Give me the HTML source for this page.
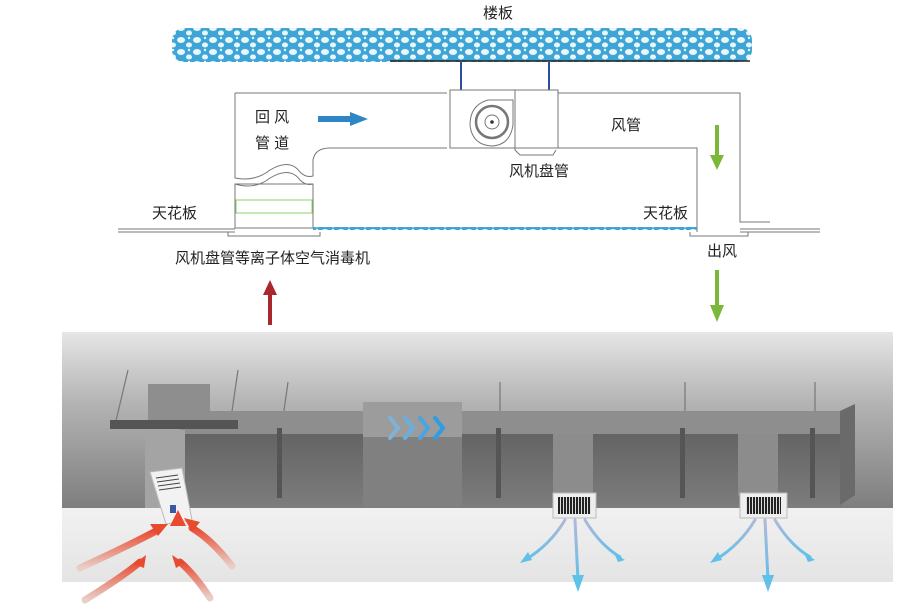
<!DOCTYPE html>
<html><head><meta charset="utf-8"><style>
html,body{margin:0;padding:0;background:#fff;width:918px;height:605px;overflow:hidden}
svg{display:block}
text{font-family:"Liberation Sans","Noto Sans CJK SC",sans-serif;font-size:15px;fill:#222}
</style></head><body>
<svg width="918" height="605" viewBox="0 0 918 605" xmlns="http://www.w3.org/2000/svg">
<defs>
<pattern id="dots" width="16" height="12" patternUnits="userSpaceOnUse">
<rect width="16" height="12" fill="#3fa5d6"/>
<ellipse cx="5" cy="4" rx="4" ry="3" fill="#e8f6fc"/>
<ellipse cx="13" cy="9" rx="3" ry="2.5" fill="#e8f6fc"/>
<circle cx="13" cy="2" r="1.2" fill="#e8f6fc"/>
</pattern>
<pattern id="grill" width="3" height="4" patternUnits="userSpaceOnUse">
<rect width="3" height="4" fill="#ddd"/><rect width="2" height="4" fill="#222"/>
</pattern>
<linearGradient id="wall" x1="0" y1="0" x2="0" y2="1">
<stop offset="0" stop-color="#e6e6e6"/><stop offset="0.4" stop-color="#b4b4b4"/><stop offset="1" stop-color="#7e7e7e"/>
</linearGradient>
<linearGradient id="floor" x1="0" y1="0" x2="0" y2="1">
<stop offset="0" stop-color="#f1f1f1"/><stop offset="1" stop-color="#e4e4e4"/>
</linearGradient>
<linearGradient id="front" x1="0" y1="0" x2="0" y2="1">
<stop offset="0" stop-color="#646464"/><stop offset="1" stop-color="#7c7c7c"/>
</linearGradient>
<linearGradient id="red" x1="0" y1="1" x2="0" y2="0">
<stop offset="0" stop-color="#e9cfc8"/><stop offset="1" stop-color="#e84a30"/>
</linearGradient>
<linearGradient id="blue" x1="0" y1="0" x2="0" y2="1">
<stop offset="0" stop-color="#b0b8d8"/><stop offset="1" stop-color="#5fc0ea"/>
</linearGradient>
</defs>

<!-- top diagram -->
<text x="483" y="18">楼板</text>
<rect x="172" y="28" width="580" height="34" rx="12" fill="url(#dots)"/>
<line x1="390" y1="61" x2="750" y2="61" stroke="#222" stroke-width="1.5"/>
<line x1="461" y1="62" x2="461" y2="92" stroke="#2a4ea0" stroke-width="2"/>
<line x1="549" y1="62" x2="549" y2="92" stroke="#2a4ea0" stroke-width="2"/>

<g fill="none" stroke="#777" stroke-width="1">
<path d="M235 93 L447 93 M235 93 L235 178 Q255 182 270 170 Q290 158 300 172 Q306 178 313 176 L313 160 Q315 148 330 148 L447 148"/>
<path d="M235 184 Q255 190 270 178 Q290 166 300 180 Q306 186 313 184"/>
<path d="M558 93 L740 93 L740 222 L770 222 M558 148 L697 148 L697 232"/>
<rect x="235" y="184" width="78" height="44"/>
<rect x="450" y="90" width="108" height="58" fill="#fff"/>
<path d="M515 90 L515 150 L520 155 L553 155 L556 150"/>
<path d="M488 100 Q470 105 470 125 Q472 145 492 146 Q510 145 513 125 L513 100 Z"/>
<circle cx="492" cy="122" r="16" stroke-width="2.5"/><circle cx="492" cy="122" r="7"/>
<line x1="118" y1="229" x2="235" y2="229"/><line x1="118" y1="232" x2="235" y2="232"/>
<line x1="740" y1="229" x2="820" y2="229"/><line x1="740" y1="232" x2="820" y2="232"/>
<path d="M228 232 L228 236 L320 236 L320 232 M690 232 L690 236 L748 236 L748 232"/>
</g>
<rect x="236" y="200" width="76" height="13" fill="none" stroke="#8fcf6b" stroke-width="1"/>
<circle cx="492" cy="122" r="1.8" fill="#333"/>
<rect x="313" y="227" width="384" height="3" fill="url(#dots)"/>

<text x="255" y="122">回 风</text>
<text x="255" y="148">管 道</text>
<path d="M318 116 L350 116 L350 112 L368 119 L350 126 L350 122 L318 122Z" fill="#2f86c6"/>
<text x="611" y="130">风管</text>
<path d="M715 125 L719 125 L719 155 L724 155 L717 170 L710 155 L715 155Z" fill="#7ab83a"/>
<text x="509" y="176">风机盘管</text>
<text x="152" y="218">天花板</text>
<text x="643" y="218">天花板</text>
<text x="175" y="263">风机盘管等离子体空气消毒机</text>
<text x="707" y="256">出风</text>
<path d="M268 325 L268 295 L263 295 L270 280 L277 295 L272 295 L272 325Z" fill="#a8282d"/>
<path d="M715 270 L719 270 L719 305 L724 305 L717 322 L710 305 L715 305Z" fill="#7ab83a"/>

<!-- bottom render -->
<rect x="62" y="332" width="831" height="176" fill="url(#wall)"/>
<rect x="62" y="508" width="831" height="74" fill="url(#floor)"/>
<g stroke="#777" stroke-width="1.2">
<line x1="128" y1="370" x2="115" y2="425"/><line x1="238" y1="370" x2="230" y2="425"/>
<line x1="288" y1="382" x2="282" y2="425"/><line x1="500" y1="382" x2="500" y2="425"/>
<line x1="685" y1="382" x2="685" y2="425"/><line x1="815" y1="382" x2="815" y2="425"/>
</g>
<rect x="180" y="411" width="660" height="23" fill="#8e8e8e"/>
<polygon points="840,411 855,404 855,495 840,505" fill="#6a6a6a"/>
<rect x="185" y="434" width="655" height="72" fill="url(#front)"/>
<rect x="363" y="402" width="99" height="35" fill="#9c9c9c"/>
<rect x="363" y="437" width="99" height="70" fill="#808080"/>
<g fill="none" stroke-width="4" stroke-linecap="round">
<path d="M390 418 L398 428 L390 438" stroke="#7fb2d6"/>
<path d="M405 418 L413 428 L405 438" stroke="#6aaede"/>
<path d="M420 418 L428 428 L420 438" stroke="#4aa4e2"/>
<path d="M435 418 L443 428 L435 438" stroke="#2e9ce6"/>
</g>
<g fill="#555"><rect x="277" y="428" width="5" height="70"/><rect x="496" y="428" width="5" height="70"/><rect x="680" y="428" width="5" height="70"/><rect x="810" y="428" width="5" height="70"/></g>
<rect x="553" y="434" width="40" height="62" fill="#8c8c8c"/>
<rect x="738" y="434" width="40" height="62" fill="#8c8c8c"/>
<rect x="148" y="384" width="62" height="40" fill="#8e8e8e"/>
<rect x="145" y="430" width="40" height="78" fill="#a4a4a4"/>
<rect x="110" y="420" width="128" height="9" fill="#555"/>
<polygon points="150,472 182,468 192,520 166,524" fill="#f2f2f2" stroke="#bbb"/>
<g stroke="#444" stroke-width="1"><line x1="156" y1="478" x2="178" y2="475"/><line x1="157" y1="482" x2="179" y2="479"/><line x1="158" y1="486" x2="180" y2="483"/><line x1="159" y1="490" x2="181" y2="487"/></g>
<rect x="170" y="505" width="6" height="8" fill="#3a5aa0"/>
<rect x="553" y="493" width="43" height="25" fill="#eee" stroke="#bbb"/>
<rect x="558" y="497" width="33" height="17" fill="url(#grill)"/>
<rect x="740" y="493" width="47" height="25" fill="#eee" stroke="#bbb"/>
<rect x="746" y="497" width="35" height="17" fill="url(#grill)"/>
<!-- red arrows -->
<g fill="none" stroke="url(#red)" stroke-width="7" stroke-linecap="round">
<path d="M80 568 Q130 545 158 530"/><path d="M178 555 L178 522"/><path d="M232 566 Q212 540 192 528"/>
<path d="M85 600 Q125 575 140 562"/><path d="M210 598 Q195 575 180 562"/>
</g>
<g fill="#e84a30"><polygon points="178,510 170,526 186,526"/><polygon points="168,524 150,524 158,536"/><polygon points="184,518 200,522 192,532"/>
<polygon points="146,555 134,564 144,568"/><polygon points="172,555 176,568 184,563"/></g>
<!-- blue arrows -->
<g fill="none" stroke="url(#blue)" stroke-width="3" stroke-linecap="round">
<path d="M565 520 Q550 545 525 560"/><path d="M575 520 L578 580"/><path d="M585 520 Q600 545 620 557"/>
<path d="M755 520 Q740 545 715 560"/><path d="M765 520 L768 580"/><path d="M775 520 Q790 545 810 557"/>
</g>
<g fill="#5fc0ea"><polygon points="578,592 572,575 584,575"/><polygon points="768,592 762,575 774,575"/>
<polygon points="520,563 528,552 532,560"/><polygon points="625,560 614,553 618,562"/><polygon points="710,563 718,552 722,560"/><polygon points="815,560 804,553 808,562"/></g>
</svg>
</body></html>
